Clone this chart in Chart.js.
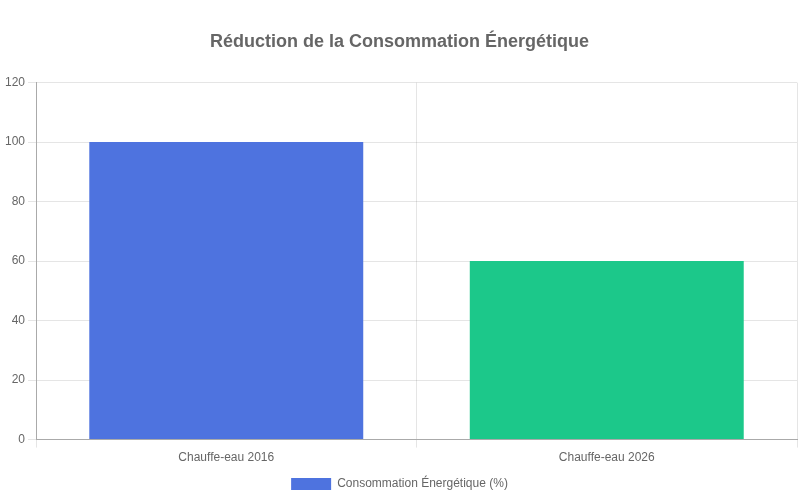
<!DOCTYPE html>
<html>
<head>
<meta charset="utf-8">
<script src="https://cdn.jsdelivr.net/npm/chart.js@4"></script>
<style>
  html, body { margin: 0; padding: 0; background: #fff; }
  #wrap { width: 800px; height: 500px; }
</style>
</head>
<body>
<div id="wrap"><canvas id="bars"></canvas></div>
<script>
const labels = ['Chauffe-eau 2016', 'Chauffe-eau 2026'];
const consommation = [100, 60];
const barColors = ['#4e73df', '#1cc88a'];

Chart.defaults.font.family = '"Liberation Sans", Arial, sans-serif';
Chart.defaults.color = '#666';

const ctx = document.getElementById('bars');

let chart = new Chart(ctx, {
  type: 'bar',
  data: {
    labels: labels,
    datasets: [{
      label: 'Consommation Énergétique (%)',
      data: consommation,
      backgroundColor: barColors
    }]
  },
  options: {
    responsive: true,
    maintainAspectRatio: false,
    animation: false,
    layout: {
      padding: { left: 2, right: 3 }
    },
    plugins: {
      title: {
        display: true,
        text: 'Réduction de la Consommation Énergétique',
        font: { size: 18, weight: 'bold' },
        padding: { top: 31, bottom: 30 }
      },
      legend: {
        position: 'bottom'
      }
    },
    scales: {
      y: {
        beginAtZero: true,
        max: 120,
        ticks: { stepSize: 20 },
        border: { color: '#aaa' }
      },
      x: {
        border: { color: '#aaa' }
      }
    }
  }
});
</script>
</body>
</html>
